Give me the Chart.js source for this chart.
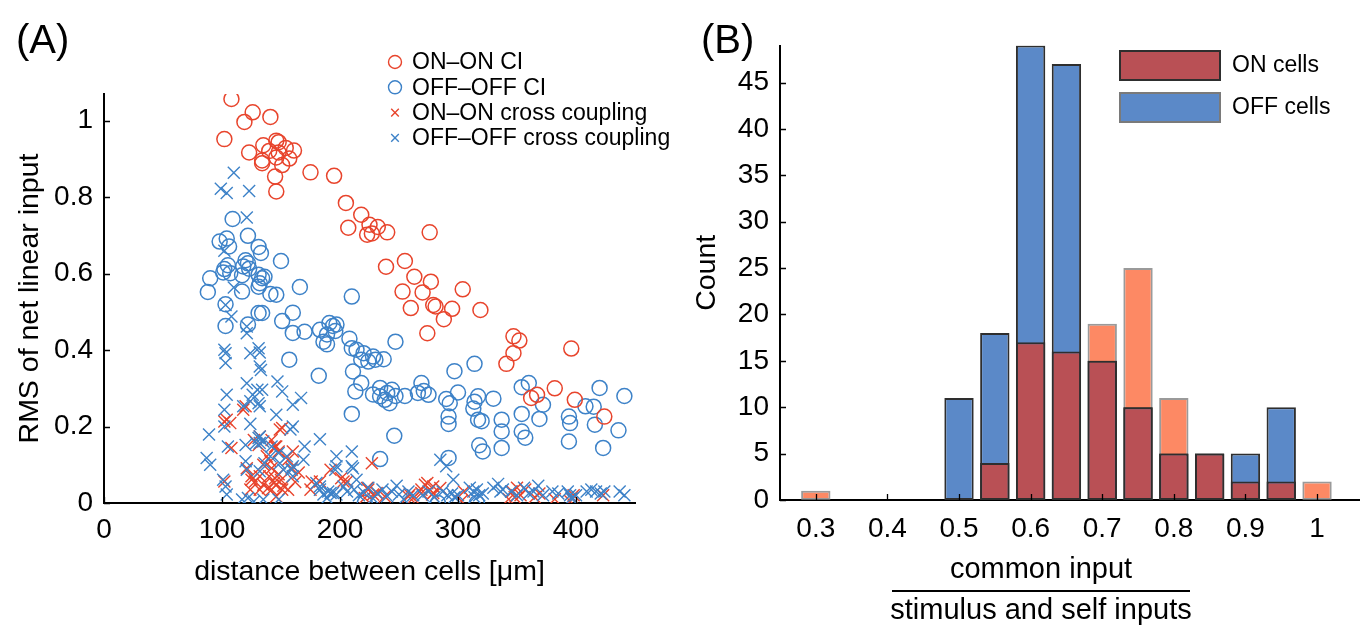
<!DOCTYPE html>
<html>
<head>
<meta charset="utf-8">
<title>Common input vs. cell distance and histogram</title>
<script src="https://cdn.jsdelivr.net/npm/chart.js@4.4.1/dist/chart.umd.min.js"></script>
<style>
  html, body { margin: 0; padding: 0; background: #ffffff; }
  #wrap { position: relative; width: 1360px; height: 631px; overflow: hidden; }
  #panelA { position: absolute; left: 0; top: 0; }
  #panelB { position: absolute; left: 690px; top: 0; }
</style>
</head>
<body>
<div id="wrap">
  <canvas id="panelA" width="690" height="631"></canvas>
  <canvas id="panelB" width="670" height="631"></canvas>
</div>
<script>
// ---------- Panel A: RMS of net linear input vs. distance [distance µm, RMS] ----------
const onOnCI = [
  [108,1.057],[126,1.022],[119,0.997],[141,1.010],[102,0.952],[123,0.917],[135,0.936],[140,0.921],
  [134,0.896],[134,0.889],[146,0.948],[148,0.944],[148,0.917],[146,0.904],[154,0.929],[161,0.922],
  [157,0.901],[151,0.884],[145,0.854],[146,0.815],[175,0.865],[195,0.856],[205,0.785],[207,0.720],
  [218,0.754],[225,0.728],[232,0.722],[240,0.708],[223,0.702],[227,0.705],[276,0.708],[239,0.618],
  [255,0.633],[263,0.592],[277,0.579],[253,0.553],[270,0.551],[304,0.559],[260,0.510],[279,0.518],
  [281,0.514],[295,0.508],[319,0.505],[288,0.481],[274,0.444],[347,0.436],[352,0.425],[347,0.392],
  [341,0.364],[396,0.404],[382,0.300],[367,0.283],[362,0.275],[399,0.270],[424,0.226]
];

const offOffCI = [
  [109,0.743],[98,0.684],[104,0.692],[106,0.671],[122,0.699],[131,0.670],[133,0.654],[150,0.633],
  [90,0.588],[88,0.552],[102,0.612],[105,0.622],[101,0.603],[107,0.601],
  [120,0.635],[122,0.627],[118,0.619],[123,0.613],[117,0.596],[117,0.553],
  [131,0.597],[134,0.588],[132,0.575],[136,0.592],[131,0.566],
  [141,0.547],[146,0.545],[166,0.565],[210,0.540],
  [103,0.520],[103,0.463],[122,0.467],[131,0.497],[134,0.497],[151,0.476],[160,0.498],
  [160,0.445],[170,0.448],
  [183,0.453],[191,0.471],[194,0.463],[197,0.467],[196,0.450],[189,0.441],[189,0.415],[186,0.422],
  [208,0.430],[210,0.405],[214,0.401],[220,0.392],[224,0.370],[228,0.383],[218,0.375],[230,0.375],[237,0.376],
  [247,0.422],[157,0.375],[182,0.333],
  [211,0.344],[218,0.314],[213,0.292],[210,0.233],
  [234,0.301],[240,0.288],[244,0.296],[247,0.280],[238,0.270],[242,0.261],[234,0.279],[228,0.284],[255,0.280],
  [269,0.314],[271,0.293],[275,0.283],[266,0.288],
  [246,0.176],[234,0.115],
  [297,0.345],[314,0.364],
  [290,0.272],[293,0.261],[292,0.226],[292,0.207],[300,0.289],
  [317,0.279],[314,0.265],[313,0.247],[317,0.218],[320,0.214],
  [330,0.273],[337,0.218],[337,0.187],[337,0.144],[318,0.151],[321,0.135],
  [354,0.303],[360,0.314],[372,0.257],[369,0.220],[354,0.233],[354,0.187],[357,0.171],
  [292,0.118],[394,0.226],[395,0.209],[394,0.161],[408,0.253],[415,0.252],[420,0.301],
  [416,0.205],[423,0.144],[441,0.280],[436,0.190],
  [221,0.000],[283,0.000],[316,0.000]
];

const onOnCross = [
  [102,0.213],[107,0.209],[104,0.218],[118,0.244],[120,0.253],[108,0.144],[102,0.056],[151,0.196],
  [149,0.192],[132,0.174],[131,0.152],[145,0.148],[148,0.135],[127,0.165],[142,0.165],[146,0.148],
  [160,0.135],[156,0.113],[159,0.091],[138,0.122],[141,0.109],[135,0.100],[142,0.091],[121,0.091],
  [125,0.070],[128,0.056],[132,0.070],[135,0.048],[139,0.039],[144,0.052],[146,0.048],[142,0.035],
  [151,0.035],[156,0.035],[132,0.035],[146,0.017],[124,0.035],[125,0.061],[150,0.060],[148,0.075],
  [145,0.065],[140,0.070],[152,0.045],[162,0.055],[165,0.080],[176,0.056],[175,0.035],[183,0.056],
  [192,0.087],[201,0.065],[203,0.056],[206,0.056],[227,0.104],[224,0.035],[228,0.022],[221,0.013],
  [223,0.039],[231,0.026],[238,0.017],[259,0.022],[262,0.013],[258,0.017],[269,0.035],[274,0.052],
  [279,0.043],[278,0.022],[272,0.048],[276,0.035],[279,0.026],[285,0.039],[269,0.026],[305,0.030],
  [303,0.005],[343,0.010],[346,0.030],[350,0.040],[353,0.020],[357,0.035],[348,0.015],[365,0.015],
  [369,0.025],[382,0.010],[395,0.005],[397,0.012],[423,0.020],[398,0.020]
];

const offOffCross = [
  [110,0.864],[99,0.822],[104,0.811],[123,0.816],[121,0.747],[102,0.660],[110,0.564],[103,0.518],
  [108,0.488],[121,0.462],[121,0.444],[102,0.401],[103,0.392],[103,0.366],[124,0.392],[132,0.394],
  [132,0.357],[133,0.348],[131,0.405],[147,0.318],[151,0.292],[121,0.313],[126,0.283],[124,0.266],
  [104,0.283],[130,0.296],[134,0.296],[118,0.253],[132,0.253],[131,0.261],[102,0.244],[160,0.257],
  [167,0.275],[124,0.207],[146,0.231],[102,0.200],[89,0.179],[105,0.148],[120,0.152],[131,0.170],
  [132,0.157],[129,0.157],[135,0.161],[132,0.174],[142,0.148],[148,0.131],[158,0.192],[160,0.200],
  [159,0.087],[170,0.148],[169,0.113],[183,0.167],[87,0.118],[90,0.100],[120,0.109],[121,0.087],
  [132,0.083],[136,0.104],[141,0.122],[155,0.122],[160,0.096],[149,0.104],[152,0.087],[160,0.070],
  [197,0.122],[197,0.096],[196,0.087],[210,0.135],[210,0.096],[211,0.091],[214,0.061],[101,0.061],
  [103,0.043],[104,0.022],[117,0.009],[127,0.004],[135,0.009],[148,0.009],[122,0.013],
  [180,0.052],[183,0.035],[186,0.022],[190,0.030],[194,0.026],[189,0.013],[197,0.022],[183,0.043],
  [192,0.026],[203,0.043],[206,0.030],[212,0.035],[216,0.020],[220,0.028],[224,0.040],[228,0.012],
  [232,0.025],[236,0.035],[240,0.018],[244,0.030],[248,0.045],[250,0.022],[254,0.010],[258,0.030],
  [262,0.020],[285,0.113],[290,0.096],[296,0.061],[287,0.030],[291,0.020],[295,0.025],[297,0.015],
  [310,0.040],[313,0.030],[316,0.035],[318,0.020],[321,0.025],[314,0.015],[330,0.040],[334,0.050],
  [336,0.030],[338,0.035],[356,0.040],[360,0.025],[364,0.030],[368,0.045],[372,0.020],[393,0.030],
  [395,0.020],[396,0.012],[409,0.030],[413,0.035],[417,0.030],[421,0.025],[424,0.030],[437,0.030],
  [441,0.020],[270,0.020],[275,0.030],[280,0.015],[300,0.020],[345,0.030],[350,0.020],[380,0.030],
  [385,0.025],[400,0.020]
];

const xTicksA = [0, 100, 200, 300, 400];
const yTicksA = [0, 0.2, 0.4, 0.6, 0.8, 1];

// ---------- Panel B: histogram of common-input ratio ----------
const binCenters = [0.30, 0.35, 0.40, 0.45, 0.50, 0.55, 0.60, 0.65, 0.70, 0.75, 0.80, 0.85, 0.90, 0.95, 1.00];
const onCounts   = [1, 0, 0, 0, 0, 4, 17, 16, 19, 25, 11, 5, 2, 2, 2];
const offCounts  = [0, 0, 0, 0, 11, 18, 49, 47, 15, 10, 5, 5, 5, 10, 0];

const xTicksB = [0.3, 0.4, 0.5, 0.6, 0.7, 0.8, 0.9, 1];
const yTicksB = [0, 5, 10, 15, 20, 25, 30, 35, 40, 45];

// ---------- styling ----------
const FONT = "'Liberation Sans', Arial, Helvetica, sans-serif";
const RED = '#e8442c';
const BLUE = '#3d82c8';
const BAR_ON_LIGHT = '#fd8964';
const BAR_ON_DARK = '#b95055';
const BAR_OFF = '#5b89c8';
const EDGE_DARK = '#2e2e2e';
const EDGE_LIGHT = 'rgba(120,120,120,0.75)';

const fmt = v => String(Math.round(v * 100) / 100);
const toPts = arr => arr.map(([x, y]) => ({ x, y }));

// MATLAB-style tick marks pointing into the plot area
const inwardTicks = {
  id: 'inwardTicks',
  afterDraw(chart, args, opts) {
    const ctx = chart.ctx;
    const xs = chart.scales.x, ys = chart.scales.y;
    const len = opts.length || 6;
    ctx.save();
    ctx.strokeStyle = '#000';
    ctx.lineWidth = 1.3;
    ctx.beginPath();
    xs.ticks.forEach(t => {
      const px = Math.round(xs.getPixelForValue(t.value)) + 0.5;
      ctx.moveTo(px, ys.bottom);
      ctx.lineTo(px, ys.bottom - len);
    });
    ys.ticks.forEach(t => {
      const py = Math.round(ys.getPixelForValue(t.value)) + 0.5;
      ctx.moveTo(xs.left, py);
      ctx.lineTo(xs.left + len, py);
    });
    ctx.stroke();
    ctx.restore();
  }
};

// Panel letter in the top-left corner
const panelLabel = {
  id: 'panelLabel',
  afterDraw(chart, args, opts) {
    const ctx = chart.ctx;
    ctx.save();
    ctx.fillStyle = '#000';
    ctx.font = `${opts.size}px ${FONT}`;
    ctx.textAlign = 'left';
    ctx.textBaseline = 'middle';
    ctx.fillText(opts.text, opts.x, opts.y);
    ctx.restore();
  }
};

// Marker legend for the scatter panel
const markerLegend = {
  id: 'markerLegend',
  afterDraw(chart, args, opts) {
    const ctx = chart.ctx;
    ctx.save();
    ctx.font = `${opts.size}px ${FONT}`;
    ctx.textBaseline = 'middle';
    ctx.textAlign = 'left';
    chart.data.datasets.forEach((ds, i) => {
      const y = opts.top + i * opts.rowGap;
      const x = opts.markerX;
      ctx.strokeStyle = ds.pointBorderColor;
      ctx.lineWidth = 1.4;
      ctx.beginPath();
      if (ds.pointStyle === 'circle') {
        ctx.arc(x, y, opts.circleR, 0, Math.PI * 2);
      } else {
        const r = opts.crossR;
        ctx.moveTo(x - r, y - r); ctx.lineTo(x + r, y + r);
        ctx.moveTo(x + r, y - r); ctx.lineTo(x - r, y + r);
      }
      ctx.stroke();
      ctx.fillStyle = '#000';
      ctx.fillText(ds.label, opts.textX, y + 1);
    });
    ctx.restore();
  }
};

// Box legend for the histogram panel
const boxLegend = {
  id: 'boxLegend',
  afterDraw(chart, args, opts) {
    const ctx = chart.ctx;
    ctx.save();
    ctx.font = `${opts.size}px ${FONT}`;
    ctx.textBaseline = 'middle';
    ctx.textAlign = 'left';
    opts.items.forEach((it, i) => {
      const top = opts.top + i * opts.rowGap;
      ctx.fillStyle = it.fill;
      ctx.fillRect(opts.boxX, top, opts.boxW, opts.boxH);
      ctx.strokeStyle = it.edge;
      ctx.lineWidth = 2;
      ctx.strokeRect(opts.boxX, top, opts.boxW, opts.boxH);
      ctx.fillStyle = '#000';
      ctx.fillText(it.label, opts.textX, top + opts.boxH / 2);
    });
    ctx.restore();
  }
};

// Fraction-style axis title under the histogram
const fractionTitle = {
  id: 'fractionTitle',
  afterDraw(chart, args, opts) {
    const ctx = chart.ctx;
    ctx.save();
    ctx.fillStyle = '#000';
    ctx.font = `${opts.size}px ${FONT}`;
    ctx.textAlign = 'center';
    ctx.textBaseline = 'middle';
    ctx.fillText(opts.numerator, opts.cx, opts.numY);
    ctx.fillText(opts.denominator, opts.cx, opts.denY);
    ctx.strokeStyle = '#000';
    ctx.lineWidth = 2;
    ctx.beginPath();
    ctx.moveTo(opts.cx - opts.lineW / 2, opts.lineY);
    ctx.lineTo(opts.cx + opts.lineW / 2, opts.lineY);
    ctx.stroke();
    ctx.restore();
  }
};

const tickFont = { family: FONT, size: 28 };
const titleFont = { family: FONT, size: 28.5 };

// ---------- Panel A chart ----------
new Chart(document.getElementById('panelA'), {
  type: 'scatter',
  data: {
    datasets: [
      { label: 'ON\u2013ON CI', data: toPts(onOnCI), pointStyle: 'circle', pointRadius: 7.5,
        pointBorderColor: RED, pointBackgroundColor: 'rgba(0,0,0,0)', pointBorderWidth: 1.5, order: 2 },
      { label: 'OFF\u2013OFF CI', data: toPts(offOffCI), pointStyle: 'circle', pointRadius: 7.5,
        pointBorderColor: BLUE, pointBackgroundColor: 'rgba(0,0,0,0)', pointBorderWidth: 1.5, order: 3 },
      { label: 'ON\u2013ON cross coupling', data: toPts(onOnCross), pointStyle: 'crossRot', pointRadius: 8.5,
        pointBorderColor: RED, pointBackgroundColor: RED, pointBorderWidth: 1.4, order: 1 },
      { label: 'OFF\u2013OFF cross coupling', data: toPts(offOffCross), pointStyle: 'crossRot', pointRadius: 8.5,
        pointBorderColor: BLUE, pointBackgroundColor: BLUE, pointBorderWidth: 1.4, order: 0 }
    ]
  },
  options: {
    responsive: false,
    animation: false,
    events: [],
    layout: { padding: { left: 0, top: 94, right: 55, bottom: 0 } },
    plugins: {
      legend: { display: false },
      tooltip: { enabled: false },
      inwardTicks: { length: 6 },
      panelLabel: { text: '(A)', x: 16, y: 42, size: 40 },
      markerLegend: { top: 62, rowGap: 25.3, markerX: 395, textX: 412, size: 23, circleR: 6.5, crossR: 3.8 }
    },
    scales: {
      x: {
        type: 'linear', min: 0, max: 450,
        afterFit(s) { s.height = 128; },
        afterBuildTicks(s) { s.ticks = xTicksA.map(v => ({ value: v })); },
        grid: { display: false, drawTicks: false },
        border: { display: true, color: '#000', width: 2 },
        ticks: { color: '#000', font: tickFont, padding: 10, maxRotation: 0, autoSkip: false, callback: v => fmt(v) },
        title: { display: true, text: 'distance between cells [\u03bcm]', color: '#000', font: titleFont,
                 padding: { top: 0, bottom: 42 } }
      },
      y: {
        type: 'linear', min: 0, max: 1.07,
        afterFit(s) { s.width = 104; },
        afterBuildTicks(s) { s.ticks = yTicksA.map(v => ({ value: v })); },
        grid: { display: false, drawTicks: false },
        border: { display: true, color: '#000', width: 2 },
        ticks: { color: '#000', font: tickFont, padding: 11, autoSkip: false, callback: v => fmt(v) },
        title: { display: true, text: 'RMS of net linear input', color: '#000', font: titleFont,
                 padding: { top: 13, bottom: 0 } }
      }
    }
  },
  plugins: [inwardTicks, panelLabel, markerLegend]
});

// ---------- Panel B chart ----------
const overlapCounts = onCounts.map((v, i) => Math.min(v, offCounts[i]));
const barPts = counts => binCenters.map((x, i) => ({ x, y: counts[i] > 0 ? counts[i] : null }));

new Chart(document.getElementById('panelB'), {
  type: 'bar',
  data: {
    datasets: [
      { label: 'ON cells', data: barPts(onCounts), backgroundColor: BAR_ON_LIGHT,
        borderColor: EDGE_LIGHT, borderWidth: 2, borderSkipped: false, order: 3 },
      { label: 'OFF cells', data: barPts(offCounts), backgroundColor: BAR_OFF,
        borderColor: EDGE_DARK, borderWidth: 2, borderSkipped: false, order: 2 },
      { label: 'ON and OFF', data: barPts(overlapCounts), backgroundColor: BAR_ON_DARK,
        borderColor: EDGE_DARK, borderWidth: 2, borderSkipped: false, order: 1 }
    ]
  },
  options: {
    responsive: false,
    animation: false,
    events: [],
    datasets: { bar: { grouped: false, barPercentage: 1, categoryPercentage: 0.82 } },
    layout: { padding: { left: 0, top: 45.5, right: 0, bottom: 0 } },
    plugins: {
      legend: { display: false },
      tooltip: { enabled: false },
      inwardTicks: { length: 6 },
      panelLabel: { text: '(B)', x: 11, y: 42, size: 40 },
      boxLegend: {
        boxX: 430, boxW: 100, boxH: 29, top: 51, rowGap: 42, textX: 542, size: 23,
        items: [
          { label: 'ON cells', fill: BAR_ON_DARK, edge: EDGE_DARK },
          { label: 'OFF cells', fill: BAR_OFF, edge: '#7a7a7a' }
        ]
      },
      fractionTitle: { numerator: 'common input', denominator: 'stimulus and self inputs',
        cx: 351, numY: 570, denY: 611, lineY: 591, lineW: 298, size: 29 }
    },
    scales: {
      x: {
        type: 'linear', min: 0.25, max: 1.06, offset: false,
        afterFit(s) { s.height = 131; },
        afterBuildTicks(s) { s.ticks = xTicksB.map(v => ({ value: v })); },
        grid: { display: false, drawTicks: false, offset: false },
        border: { display: true, color: '#000', width: 2 },
        ticks: { color: '#000', font: tickFont, padding: 12, maxRotation: 0, autoSkip: false, callback: v => fmt(v) }
      },
      y: {
        type: 'linear', min: 0, max: 49,
        afterFit(s) { s.width = 90; },
        afterBuildTicks(s) { s.ticks = yTicksB.map(v => ({ value: v })); },
        grid: { display: false, drawTicks: false },
        border: { display: true, color: '#000', width: 2 },
        ticks: { color: '#000', font: tickFont, padding: 11, autoSkip: false, callback: v => fmt(v) },
        title: { display: true, text: 'Count', color: '#000', font: titleFont, padding: { top: 0, bottom: 0 } }
      }
    }
  },
  plugins: [inwardTicks, panelLabel, boxLegend, fractionTitle]
});
</script>
</body>
</html>
